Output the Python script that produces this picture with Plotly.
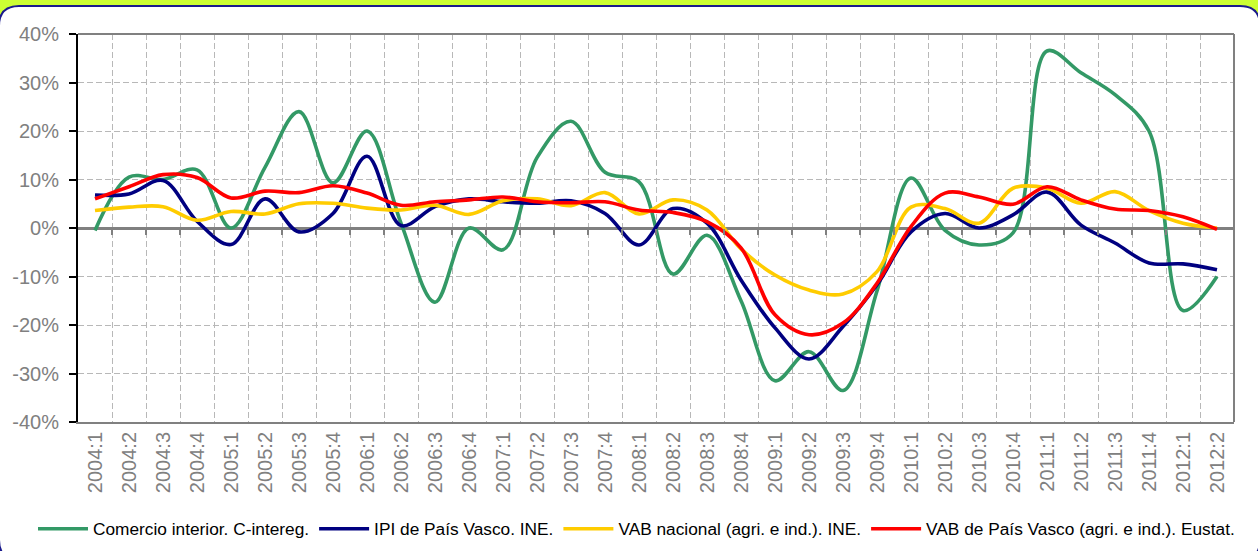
import plotly.graph_objects as go

quarters = ["2004:1","2004:2","2004:3","2004:4","2005:1","2005:2","2005:3","2005:4",
            "2006:1","2006:2","2006:3","2006:4","2007:1","2007:2","2007:3","2007:4",
            "2008:1","2008:2","2008:3","2008:4","2009:1","2009:2","2009:3","2009:4",
            "2010:1","2010:2","2010:3","2010:4","2011:1","2011:2","2011:3","2011:4",
            "2012:1","2012:2"]

comercio = [-0.5, 10.5, 10.0, 12.0, 0.0, 12.5, 24.0, 9.3, 20.0, 1.0, -15.3, 0.0,
            -4.5, 14.5, 22.0, 11.5, 9.5, -9.5, -1.5, -15.0, -31.5, -25.5, -33.5, -13.0,
            10.3, -0.5, -3.5, -1.0, 36.5, 32.0, 27.5, 20.0, -17.0, -10.0]
ipi = [6.8, 7.0, 9.8, 1.4, -3.4, 6.0, -0.8, 3.0, 14.8, 0.5, 4.4, 6.0,
       5.4, 5.1, 5.6, 3.0, -3.5, 4.0, 1.0, -10.7, -20.6, -27.0, -20.3, -11.7,
       -0.8, 3.0, 0.0, 2.7, 7.4, 0.6, -3.1, -7.2, -7.4, -8.6]
vab_nac = [3.6, 4.3, 4.4, 1.6, 3.4, 2.9, 5.0, 5.1, 4.1, 3.7, 4.7, 2.8,
           5.6, 6.0, 4.6, 7.3, 2.9, 5.8, 3.7, -4.3, -9.7, -12.8, -13.6, -9.0,
           4.3, 4.0, 1.0, 8.2, 8.2, 5.1, 7.5, 3.6, 1.0, 0.0]
vab_pv = [6.0, 8.5, 11.0, 10.4, 6.2, 7.6, 7.3, 8.7, 7.2, 4.7, 5.4, 5.8,
          6.4, 5.4, 5.2, 5.4, 3.7, 3.2, 1.3, -4.1, -17.9, -22.0, -19.6, -11.4,
          0.3, 7.2, 6.4, 4.9, 8.5, 5.8, 3.9, 3.6, 2.3, -0.3]

series = [
    ("Comercio interior. C-intereg.", comercio, "#339966"),
    ("IPI de País Vasco. INE.", ipi, "#000080"),
    ("VAB nacional (agri. e ind.). INE.", vab_nac, "#FFCC00"),
    ("VAB de País Vasco (agri. e ind.). Eustat.", vab_pv, "#FF0000"),
]

y_ticks = [-40, -30, -20, -10, 0, 10, 20, 30, 40]
y_ticktext = [f"{v}%" for v in y_ticks]

W, H = 1258, 551
ML, MR, MT, MB = 78, 24, 34, 129
PW, PH = W - ML - MR, H - MT - MB

def px(x):
    return (x - ML) / PW

def py(y):
    return (H - MB - y) / PH

xs = list(range(len(quarters)))
bounds = [i - 0.5 for i in range(1, len(quarters))]
FONT = "Liberation Sans, Arial, sans-serif"

fig = go.Figure()
for i, (name, vals, col) in enumerate(series):
    fig.add_trace(go.Scatter(
        x=xs, y=vals, name=name, mode="lines",
        line=dict(color=col, width=3.6, shape="spline", smoothing=1.0),
        xaxis="x2" if i == len(series) - 1 else "x",
    ))

# panel frame
r = 20
L, R, T, B = -1, 1260, 6, 560
path = (f"M {px(L)},{py(B - r)} L {px(L)},{py(T + r)} "
        f"Q {px(L)},{py(T)} {px(L + r)},{py(T)} "
        f"L {px(R - r)},{py(T)} Q {px(R)},{py(T)} {px(R)},{py(T + r)} "
        f"L {px(R)},{py(B - r)} Q {px(R)},{py(B)} {px(R - r)},{py(B)} "
        f"L {px(L + r)},{py(B)} Q {px(L)},{py(B)} {px(L)},{py(B - r)} Z")
shapes = [
    dict(type="path", xref="paper", yref="paper", path=path,
         fillcolor="white", line=dict(color="#1a1a8c", width=2), layer="below"),
    dict(type="line", xref="paper", yref="paper", x0=1, x1=1, y0=0, y1=1,
         line=dict(color="#808080", width=2), layer="above"),
    dict(type="line", xref="paper", yref="paper", x0=0, x1=1, y0=1, y1=1,
         line=dict(color="#808080", width=2), layer="above"),
]

fig.update_layout(
    width=W, height=H,
    margin=dict(l=ML, r=MR, t=MT, b=MB, autoexpand=False),
    paper_bgcolor="#CCFF33",
    plot_bgcolor="rgba(0,0,0,0)",
    showlegend=True,
    legend=dict(orientation="h", xref="paper", yref="paper",
                x=px(33), xanchor="left", y=py(529), yanchor="middle",
                font=dict(family=FONT, size=17.3, color="#000000"),
                bgcolor="rgba(0,0,0,0)", itemwidth=50, tracegroupgap=0),
    shapes=shapes,
    xaxis=dict(
        range=[-0.5, len(quarters) - 0.5], automargin=False,
        tickmode="array", tickvals=xs, ticktext=quarters, tickangle=-90,
        ticks="", showgrid=False, zeroline=False,
        showline=True, linecolor="#808080", linewidth=2,
        tickfont=dict(family=FONT, size=20, color="#808080"),
        minor=dict(tickmode="array", tickvals=bounds, showgrid=True, gridcolor="#B8B8B8",
                   griddash="6px,3px", gridwidth=1.3, ticks=""),
        fixedrange=True,
    ),
    xaxis2=dict(
        overlaying="x", matches="x", anchor="free", position=0.5, automargin=False,
        tickmode="array", tickvals=bounds, ticks="outside", ticklen=6, tickwidth=1.5,
        tickcolor="#808080", showticklabels=False, showgrid=False, zeroline=False,
        showline=False,
    ),
    yaxis=dict(
        range=[-40, 40], automargin=False,
        tickmode="array", tickvals=y_ticks, ticktext=y_ticktext,
        ticks="outside", ticklen=7, tickwidth=2, tickcolor="#000000",
        showline=True, linecolor="#000000", linewidth=2,
        showgrid=True, gridcolor="#B8B8B8", griddash="6px,3px", gridwidth=1.3,
        zeroline=True, zerolinecolor="#808080", zerolinewidth=2.5,
        tickfont=dict(family=FONT, size=20, color="#808080"),
        ticklabelstandoff=6,
    ),
)

fig.write_html("out.html", config={"displayModeBar": False},
               post_script="document.body.style.margin='0';document.body.style.overflow='hidden';")
